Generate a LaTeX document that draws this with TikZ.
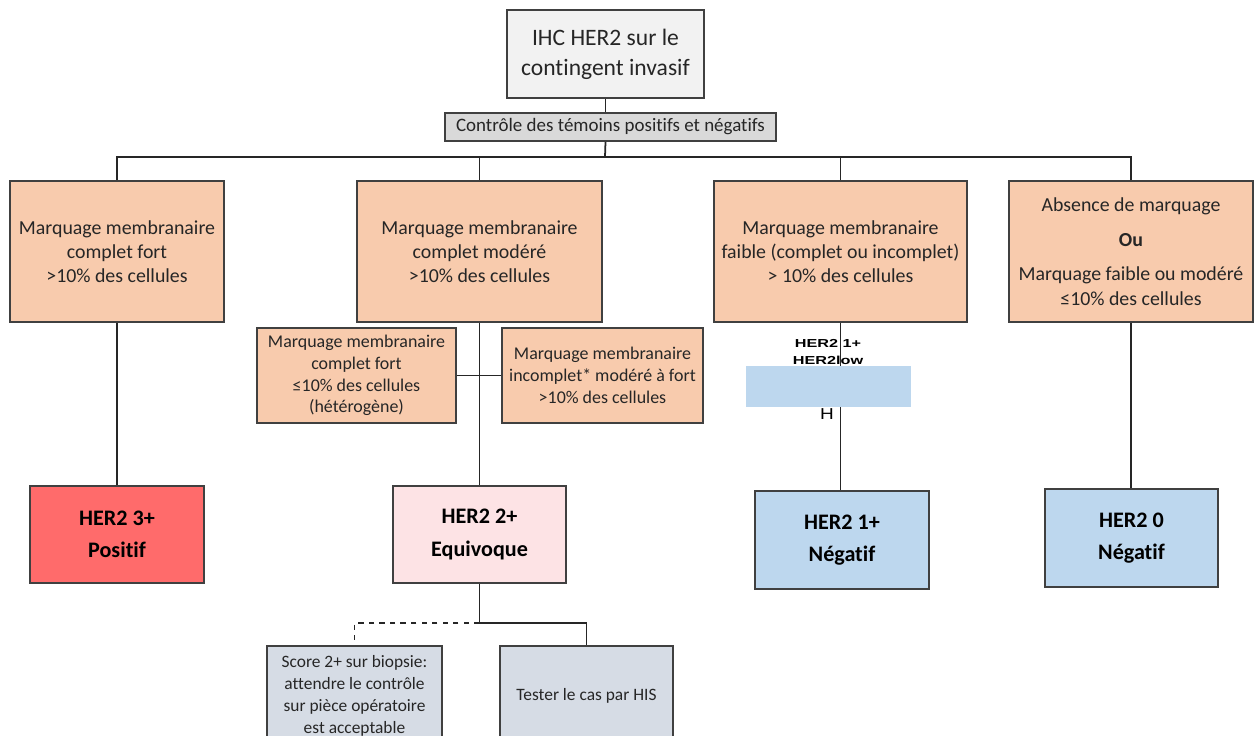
\documentclass[tikz,border=0pt]{standalone}
\usepackage{fontspec}
\setmainfont{Carlito}[RawFeature={-liga}]
\newfontfamily\arialfont{Liberation Sans}
\usepackage{graphicx}
\usepackage{tikz}
\usetikzlibrary{positioning}

\definecolor{boxline}{HTML}{404040}
\definecolor{txtgray}{HTML}{262626}
\definecolor{peach}{HTML}{F8CBAD}
\definecolor{posred}{HTML}{FF6B6B}
\definecolor{eqpink}{HTML}{FDE3E5}
\definecolor{negblue}{HTML}{BDD7EE}
\definecolor{hisgray}{HTML}{D6DCE5}

\begin{document}
\begin{tikzpicture}[
  x=0.02cm, y=-0.02cm,
  font=\fontsize{11.3}{13.8}\selectfont\color{txtgray},
  card/.style={draw=boxline, line width=0.9pt, align=center, inner sep=2pt},
  crit/.style={card, fill=peach, minimum height=2.82cm},
  subcrit/.style={card, fill=peach, minimum height=1.9cm, font=\fontsize{10.2}{12.4}\selectfont\color{txtgray}},
  score/.style={card, minimum width=3.48cm, minimum height=1.94cm, font=\bfseries\fontsize{12.6}{18.5}\selectfont\color{black}},
  follow/.style={card, fill=hisgray, minimum width=3.5cm, minimum height=2cm, font=\fontsize{9.9}{12.4}\selectfont\color{txtgray}},
  link/.style={draw=black!85, line width=1pt}
]
\clip (0,0) rectangle (1255,736);
\fill[white] (0,0) rectangle (1255,736);

% en-tete
\node[card, fill=black!5, minimum width=3.94cm, minimum height=1.76cm,
  font=\fontsize{13.4}{17}\selectfont\color{txtgray}] (ihc) at (605.5,54) {IHC HER2 sur le\\contingent invasif};
\node[card, fill=black!15, minimum width=6.62cm, minimum height=0.56cm, inner sep=1pt,
  font=\fontsize{10.8}{12}\selectfont\color{txtgray}] (ctrl) at (610.5,127) {Contrôle des témoins positifs et négatifs};

% criteres
\node[crit, minimum width=4.28cm] (fort) at (117,251.5) {Marquage membranaire\\complet fort\\>10\% des cellules};
\node[crit, minimum width=4.9cm] (modere) at (479.5,251.5) {Marquage membranaire\\complet modéré\\>10\% des cellules};
\node[crit, minimum width=5.06cm] (faible) at (840.5,251.5) {Marquage membranaire\\faible (complet ou incomplet)\\> 10\% des cellules};
\node[crit, minimum width=4.88cm] (absent) at (1131,251.5) {Absence de marquage\\[6pt]\textbf{Ou}\\[6pt]Marquage faible ou modéré\\≤10\% des cellules};

\node[subcrit, minimum width=3.98cm] (hetero) at (356.5,375.5) {Marquage membranaire\\complet fort\\≤10\% des cellules\\(hétérogène)};
\node[subcrit, minimum width=4.02cm] (incomp) at (602.5,375.5) {Marquage membranaire\\incomplet* modéré à fort\\>10\% des cellules};

% scores
\node[score, fill=posred] (her3) at (117,534.5) {HER2 3+\\Positif};
\node[score, fill=eqpink, minimum width=3.46cm] (her2) at (479.5,534.5) {HER2 2+\\Equivoque};
\node[score, fill=negblue, minimum height=1.96cm] (her1) at (842,540) {HER2 1+\\Négatif};
\node[score, fill=negblue, minimum width=3.46cm, minimum height=1.96cm] (her0) at (1131.5,538) {HER2 0\\Négatif};

% suite du 2+
\node[follow] (biopsie) at (354.5,696) {Score 2+ sur biopsie:\\attendre le contrôle\\sur pièce opératoire\\est acceptable};
\node[follow, minimum width=3.46cm] (his) at (586.5,696) {Tester le cas par HIS};

% liens
\coordinate (bus) at (605,157);
\coordinate (split) at (479.5,623);
\draw[link] (ihc.south) -- (ctrl.north -| ihc.south);
\draw[link] (ctrl.south -| ihc.south) -- (bus);
\draw[link] (fort.north) |- (bus) -| (absent.north);
\draw[link] (modere.north) -- (modere.north |- bus);
\draw[link] (faible.north) -- (faible.north |- bus);
\draw[link] (fort.south) -- (her3.north);
\draw[link] (modere.south) -- (her2.north);
\draw[link] (hetero.east) -- (incomp.west);
\draw[link] (faible.south) -- (faible.south |- her1.north);
\draw[link] (absent.south) -- (absent.south |- her0.north);
\draw[link] (her2.south) -- (split);
\draw[link, dashed] (split) -| (biopsie.north);
\draw[link] (split) -| (his.north);

% bandeau HER2low
\node[fill=negblue, minimum width=3.3cm, minimum height=0.82cm, inner sep=0pt] (lowbar) at (828.5,386.5) {};
\node[align=center, inner sep=0pt, font=\arialfont\bfseries\fontsize{6.6}{9.4}\selectfont\color{black}] (lowlbl) at (828,352) {\scalebox{1.4}[1]{HER2 1+}\\\scalebox{1.4}[1]{HER2low}};
\node[inner sep=0pt, font=\arialfont\fontsize{9}{10}\selectfont\color{black}] (lowh) at (827,414) {\scalebox{1.2}[1]{H}};
\end{tikzpicture}
\end{document}
